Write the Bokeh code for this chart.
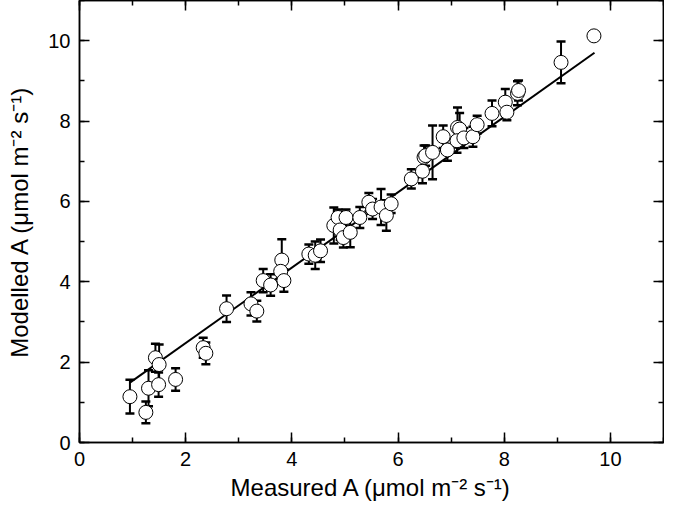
from bokeh.plotting import figure
from bokeh.models import LinearAxis, SingleIntervalTicker, Range1d, ColumnDataSource
from bokeh.embed import file_html
from bokeh.resources import INLINE

# Measured A (x), Modelled A (y) and error (+/-)
measured = [0.95, 1.25, 1.30, 1.43, 1.50, 1.49, 1.81, 2.33, 2.38, 2.77,
            3.23, 3.34, 3.46, 3.60, 3.81, 3.79, 3.85, 4.32, 4.44, 4.54,
            4.79, 4.87, 4.91, 4.97, 5.02, 5.10, 5.28, 5.45, 5.52, 5.68,
            5.78, 5.87, 6.25, 6.46, 6.49, 6.52, 6.65, 6.85, 6.93, 7.12,
            7.16, 7.11, 7.24, 7.41, 7.49, 7.77, 8.02, 8.05, 8.25, 8.27,
            9.07, 9.69]
modelled = [1.14, 0.75, 1.35, 2.11, 1.94, 1.44, 1.57, 2.36, 2.22, 3.33,
            3.45, 3.27, 4.03, 3.92, 4.54, 4.26, 4.03, 4.69, 4.66, 4.77,
            5.40, 5.60, 5.29, 5.10, 5.60, 5.23, 5.60, 5.98, 5.81, 5.86,
            5.65, 5.94, 6.56, 6.75, 7.10, 7.14, 7.22, 7.61, 7.28, 7.84,
            7.80, 7.51, 7.58, 7.61, 7.91, 8.19, 8.47, 8.22, 8.69, 8.76,
            9.46, 10.12]
err = [0.42, 0.27, 0.45, 0.35, 0.50, 0.30, 0.28, 0.25, 0.27, 0.33,
       0.29, 0.26, 0.29, 0.27, 0.52, 0.20, 0.28, 0.24, 0.34, 0.28,
       0.45, 0.20, 0.25, 0.25, 0.20, 0.37, 0.26, 0.23, 0.25, 0.45,
       0.38, 0.23, 0.24, 0.30, 0.29, 0.25, 0.67, 0.28, 0.27, 0.50,
       0.40, 0.30, 0.25, 0.25, 0.22, 0.32, 0.33, 0.20, 0.30, 0.25,
       0.52, 0.05]

# regression line end points
fit_x = [0.95, 9.70]
fit_y = [1.49, 9.70]

x_label = "Measured A (\u03bcmol m\u207b\u00b2 s\u207b\u00b9)"
y_label = "Modelled A (\u03bcmol m\u207b\u00b2 s\u207b\u00b9)"

lo = [m - e for m, e in zip(modelled, err)]
hi = [m + e for m, e in zip(modelled, err)]
src = ColumnDataSource(dict(x=measured, y=modelled, lo=lo, hi=hi))

FONT = "Liberation Sans"

p = figure(width=664, height=503, x_range=Range1d(0, 11), y_range=Range1d(0, 11),
           output_backend="svg", toolbar_location=None,
           x_axis_label=x_label, y_axis_label=y_label,
           min_border_left=79, min_border_top=0, min_border_right=1, min_border_bottom=10)
p.xgrid.visible = False
p.ygrid.visible = False
p.outline_line_color = "black"
p.outline_line_width = 1.5
p.background_fill_color = "white"
p.border_fill_color = "white"


def style(ax, labels=True):
    ax.ticker = SingleIntervalTicker(interval=2, num_minor_ticks=2)
    ax.axis_line_color = "black"
    ax.axis_line_width = 1.5
    ax.major_tick_in = 10
    ax.major_tick_out = 0
    ax.minor_tick_in = 5
    ax.minor_tick_out = 0
    ax.major_tick_line_width = 1.5
    ax.minor_tick_line_width = 1.5
    ax.major_tick_line_color = "black"
    ax.minor_tick_line_color = "black"
    if labels:
        ax.major_label_text_font = FONT
        ax.major_label_text_font_size = "20px"
        ax.major_label_text_color = "black"
        ax.axis_label_text_font = FONT
        ax.axis_label_text_font_size = "24px"
        ax.axis_label_text_font_style = "normal"
        ax.axis_label_text_color = "black"
    else:
        ax.major_label_text_color = None
        ax.major_label_text_font_size = "1px"
        ax.major_label_standoff = 0


style(p.xaxis[0])
style(p.yaxis[0])
p.xaxis[0].major_label_standoff = 9
p.xaxis[0].axis_label_standoff = 5
p.yaxis[0].major_label_standoff = 9
p.yaxis[0].axis_label_standoff = 12

top = LinearAxis()
style(top, labels=False)
p.add_layout(top, "above")
right = LinearAxis()
style(right, labels=False)
p.add_layout(right, "right")

p.line(fit_x, fit_y, line_color="black", line_width=2)
p.segment(x0="x", y0="lo", x1="x", y1="hi", source=src, line_color="black", line_width=2)
p.scatter("x", "hi", source=src, marker="dash", size=9, line_color="black", line_width=2.5)
p.scatter("x", "lo", source=src, marker="dash", size=9, line_color="black", line_width=2.5)
p.scatter("x", "y", source=src, marker="circle", size=14, fill_color="white",
          line_color="black", line_width=1)

open("out.html", "w").write(file_html(p, INLINE))
